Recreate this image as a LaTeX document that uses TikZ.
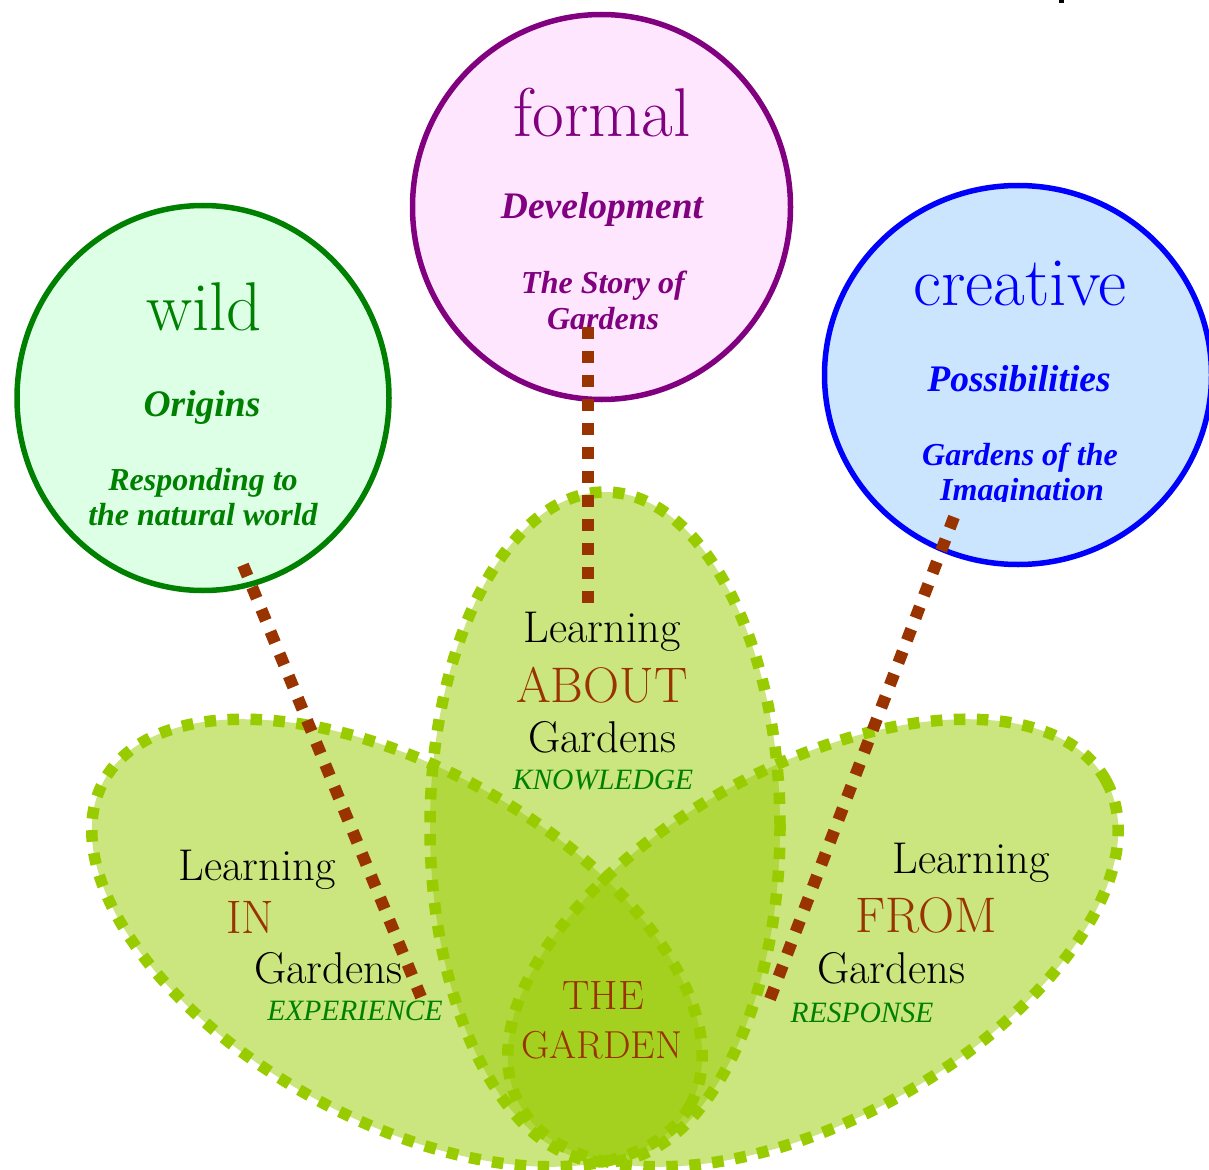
\documentclass[tikz,border=0pt]{standalone}
\usepackage{fontspec}
\newfontfamily\tnr{Liberation Serif}
\usetikzlibrary{shapes.geometric}
\definecolor{petalgreen}{HTML}{99CC00}
\definecolor{brownc}{HTML}{993300}
\definecolor{wildline}{HTML}{008000}
\definecolor{wildfill}{HTML}{DDFFE6}
\definecolor{formalline}{HTML}{800080}
\definecolor{formalfill}{HTML}{FFE6FF}
\definecolor{creativeline}{HTML}{0000FF}
\definecolor{creativefill}{HTML}{CCE5FF}
\tikzset{
  petal/.style={ellipse, draw=petalgreen, fill=petalgreen, fill opacity=0.5, draw opacity=1,
    line width=11.5pt, dash pattern=on 11.5pt off 11.5pt, inner sep=0pt, outer sep=0pt},
  bubble/.style={ellipse, line width=5.5pt, inner sep=0pt, outer sep=0pt},
  link/.style={draw=brownc, line width=12pt, dash pattern=on 12pt off 12pt},
  txt/.style={anchor=base, inner sep=0pt, outer sep=0pt},
  bigword/.style={txt, font=\fontsize{69}{76}\selectfont},
  headbi/.style={txt, font=\tnr\bfseries\itshape\fontsize{37.5}{42}\selectfont},
  subbi/.style={txt, font=\tnr\bfseries\itshape\fontsize{32}{36}\selectfont},
  learn/.style={txt, text=black, font=\fontsize{44.5}{48}\selectfont},
  prep/.style={txt, text=brownc, font=\fontsize{50}{54}\selectfont},
  centre/.style={txt, text=brownc, font=\fontsize{39}{42}\selectfont},
  tag/.style={txt, text=wildline, font=\tnr\itshape\fontsize{29.5}{32}\selectfont}
}
\begin{document}
\begin{tikzpicture}[x=1pt,y=-1pt]
\useasboundingbox (0,0) rectangle (1209,1169);
\fill[white] (0,0) rectangle (1209,1169);
\clip (0,0) rectangle (1209,1169);
% fragment at the top edge
\fill[black] (1059,0) rectangle (1064,3.5);
% circles
\node[bubble, draw=wildline, fill=wildfill, minimum width=372pt, minimum height=385pt] (wild) at (203,398) {};
\node[bubble, draw=formalline, fill=formalfill, minimum width=378pt, minimum height=385pt] (formal) at (601.5,207) {};
\node[bubble, draw=creativeline, fill=creativefill, minimum width=387pt, minimum height=379pt] (creative) at (1018,375) {};
% petals
\node[petal, minimum width=670pt, minimum height=352pt, rotate=-29] (inpetal) at (397,943) {};
\node[petal, minimum width=670pt, minimum height=352pt, rotate=29] (frompetal) at (813,943) {};
\node[petal, minimum width=350pt, minimum height=670pt] (aboutpetal) at (605,827) {};
% circle texts
\node[bigword, text=wildline] (wildw) at (204,330) {wild};
\node[headbi, text=wildline] (wildh) at (202,416) {Origins};
\node[subbi, text=wildline] (wilds1) at (203,490) {Responding to};
\node[subbi, text=wildline] (wilds2) at (203,525) {the natural world};
\node[bigword, text=formalline] (formalw) at (602,137) {formal};
\node[headbi, text=formalline] (formalh) at (602,218) {Development};
\node[subbi, text=formalline] (formals1) at (603,293) {The Story of};
\node[subbi, text=formalline] (formals2) at (603,329) {Gardens};
\node[bigword, text=creativeline] (creativew) at (1020,305) {creative};
\node[headbi, text=creativeline] (creativeh) at (1019,391) {Possibilities};
\node[subbi, text=creativeline] (creatives1) at (1020,465) {Gardens of the};
\begin{scope}
\clip (800,0) rectangle (1209,501.5);
\node[subbi, text=creativeline] (creatives2) at (1022,500) {Imagination};
\end{scope}
% petal texts
\node[learn] (al) at (602,642) {Learning};
\node[prep] (ap) at (602,702) {ABOUT};
\node[learn] (ag) at (602,752) {Gardens};
\node[tag] (at) at (603,789) {KNOWLEDGE};
\node[learn] (il) at (257,880) {Learning};
\node[prep, font=\fontsize{47}{50}\selectfont] (ip) at (250,933) {IN};
\node[learn] (ig) at (328,983) {Gardens};
\node[tag] (it) at (355,1020) {EXPERIENCE};
\node[learn] (fl) at (971,873) {Learning};
\node[prep] (fp) at (926,932) {FROM};
\node[learn] (fg) at (891,983) {Gardens};
\node[tag] (ft) at (862,1022) {RESPONSE};
\node[centre, font=\fontsize{41}{44}\selectfont] (tg1) at (603,1009) {THE};
\node[centre] (tg2) at (602,1058) {GARDEN};
% connectors
\coordinate (wildtail) at (243,565);
\coordinate (wildtip) at (421,997);
\coordinate (formaltail) at (588,327);
\coordinate (formaltip) at (588,603);
\coordinate (creativetail) at (954,517);
\coordinate (creativetip) at (770,999);
\draw[link] (wildtail) -- (wildtip);
\draw[link] (formaltail) -- (formaltip);
\draw[link] (creativetail) -- (creativetip);
\end{tikzpicture}
\end{document}
